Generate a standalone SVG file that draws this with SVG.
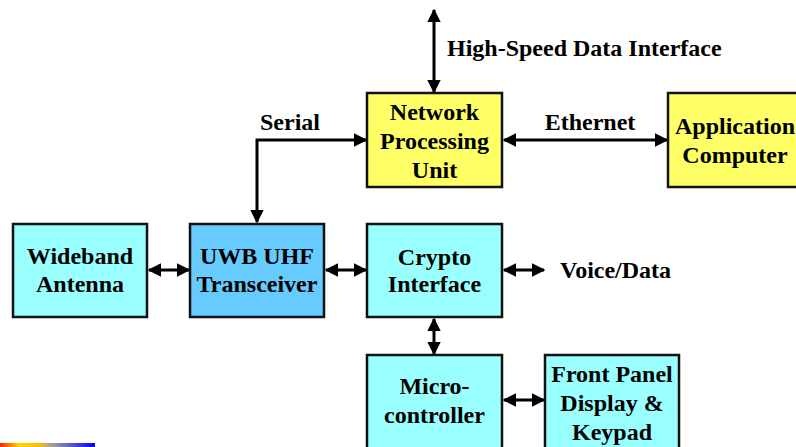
<svg xmlns="http://www.w3.org/2000/svg" width="796" height="447" viewBox="0 0 796 447">
<defs>
<marker id="ah" viewBox="0 0 10 10" refX="9" refY="5" markerWidth="4.6" markerHeight="4.6" orient="auto-start-reverse" markerUnits="strokeWidth">
<path d="M0,0 L10,5 L0,10 Z" fill="#000"/>
</marker>
<linearGradient id="bar" x1="0" y1="0" x2="1" y2="0">
<stop offset="0" stop-color="#ff2000"/>
<stop offset="0.2" stop-color="#ffd800"/>
<stop offset="0.4" stop-color="#ffc000"/>
<stop offset="0.55" stop-color="#a0a0a0"/>
<stop offset="1" stop-color="#0000ff"/>
</linearGradient>
</defs>
<style>
.box{stroke:#111;stroke-width:2.5}
.y{fill:#ffff66}
.c{fill:#99ffff}
.b{fill:#66ccff}
text{font-family:"Liberation Serif","Times New Roman",serif;font-weight:bold;font-size:24px;fill:#000}
.m{text-anchor:middle}
.cn{stroke:#000;stroke-width:3;fill:none;marker-start:url(#ah);marker-end:url(#ah)}
</style>
<rect width="796" height="447" fill="#fff"/>
<g id="connectors">
<line class="cn" x1="434" y1="10" x2="434" y2="92"/>
<line class="cn" x1="504" y1="140" x2="667" y2="140"/>
<path class="cn" d="M366,140 L257,140 L257,222"/>
<line class="cn" x1="149" y1="270" x2="189" y2="270"/>
<line class="cn" x1="326" y1="270" x2="366" y2="270"/>
<line class="cn" x1="504" y1="270" x2="544" y2="270"/>
<line class="cn" x1="434" y1="319" x2="434" y2="354"/>
<line class="cn" x1="504" y1="400" x2="544" y2="400"/>
</g>
<g id="hsdi"><text x="447" y="56">High-Speed Data Interface</text></g>
<g id="serial-label"><text x="290" y="130" class="m">Serial</text></g>
<g id="ethernet-label"><text x="590" y="130" class="m">Ethernet</text></g>
<g id="voice-label"><text x="560" y="278">Voice/Data</text></g>
<g id="npu">
<rect class="box y" x="367" y="93" width="135" height="94"/>
<text class="m" x="434.5" y="120">Network</text>
<text class="m" x="434.5" y="149">Processing</text>
<text class="m" x="434.5" y="178">Unit</text>
</g>
<g id="app">
<rect class="box y" x="668" y="93" width="140" height="94"/>
<text class="m" x="735" y="134">Application</text>
<text class="m" x="735" y="163">Computer</text>
</g>
<g id="antenna">
<rect class="box c" x="13" y="224" width="134" height="93"/>
<text class="m" x="80" y="264">Wideband</text>
<text class="m" x="80" y="292">Antenna</text>
</g>
<g id="uwb">
<rect class="box b" x="190" y="224" width="134" height="93"/>
<text class="m" x="257" y="264">UWB UHF</text>
<text class="m" x="257" y="292">Transceiver</text>
</g>
<g id="crypto">
<rect class="box c" x="367" y="224" width="135" height="93"/>
<text class="m" x="434.5" y="265">Crypto</text>
<text class="m" x="434.5" y="292">Interface</text>
</g>
<g id="micro">
<rect class="box c" x="367" y="355" width="135" height="100"/>
<text class="m" x="434.5" y="394">Micro-</text>
<text class="m" x="434.5" y="423">controller</text>
</g>
<g id="frontpanel">
<rect class="box c" x="545" y="355" width="134" height="100"/>
<text class="m" x="612" y="382">Front Panel</text>
<text class="m" x="612" y="411">Display &amp;</text>
<text class="m" x="612" y="440">Keypad</text>
</g>
<rect x="0" y="443" width="95" height="4" fill="url(#bar)"/>
</svg>
